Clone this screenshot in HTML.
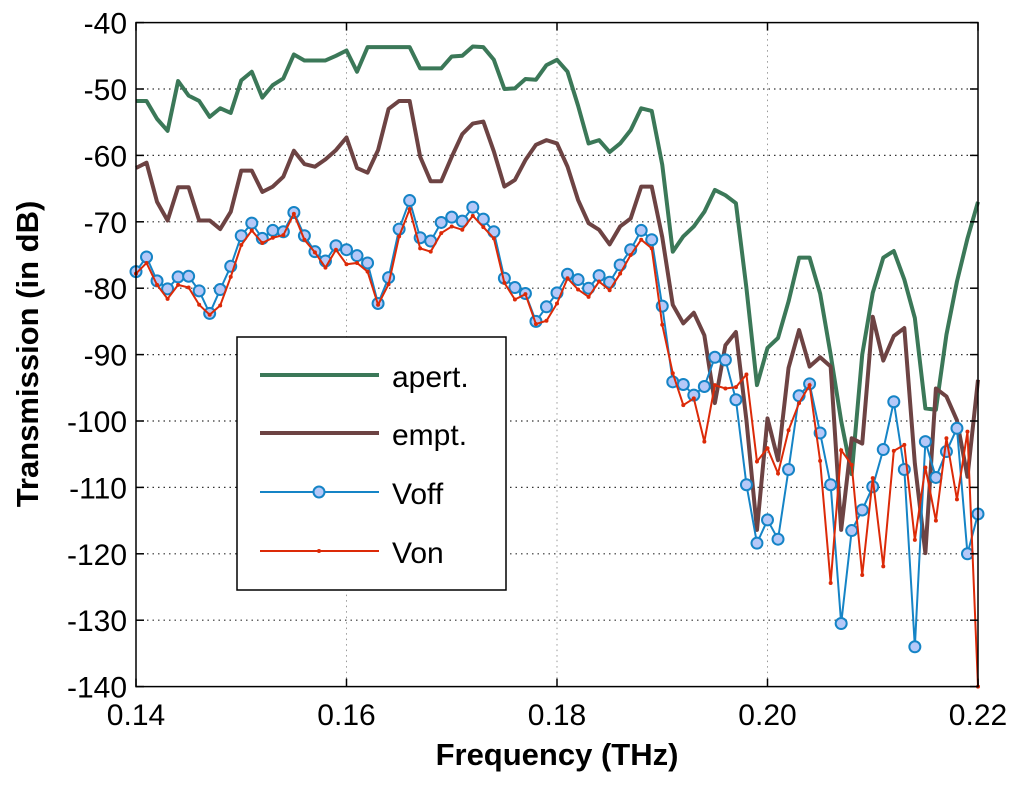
<!DOCTYPE html>
<html><head><meta charset="utf-8"><style>
html,body{margin:0;padding:0;background:#fff;}
svg{display:block;font-family:"Liberation Sans",Arial,sans-serif;}
</style></head><body>
<svg id="chart" width="1024" height="788" viewBox="0 0 1024 788" xmlns="http://www.w3.org/2000/svg">
<g id="grid"></g>
<g id="series"></g>
<rect x="136" y="22.6" width="842" height="664" fill="none" stroke="#000" stroke-width="1.5"/>
<g id="ticks"></g>
<text x="557" y="765" font-size="31" font-weight="bold" text-anchor="middle">Frequency (THz)</text>
<text transform="translate(38,354) rotate(-90)" font-size="31" font-weight="bold" text-anchor="middle">Transmission (in dB)</text>
<g>
<rect x="237" y="337" width="269" height="253" fill="#fff" stroke="#000" stroke-width="1.5"/>
<g><line x1="260" y1="375" x2="379" y2="375" stroke="#3b7858" stroke-width="4"/><text x="392" y="387" font-size="30">apert.</text></g>
<g><line x1="260" y1="433" x2="379" y2="433" stroke="#6d4343" stroke-width="4"/><text x="392" y="445" font-size="30">empt.</text></g>
<g><line x1="260" y1="492" x2="379" y2="492" stroke="#1584c6" stroke-width="2"/><circle cx="319" cy="492" r="5.5" fill="#b5c8f8" stroke="#1584c6" stroke-width="2"/><text x="392" y="504" font-size="30">Voff</text></g>
<g><line x1="260" y1="551" x2="379" y2="551" stroke="#dc2a08" stroke-width="2"/><circle cx="319" cy="551" r="2" fill="#dc2a08"/><text x="392" y="563" font-size="30">Von</text></g>
</g>
</svg>
<script>
const freqStart = 0.14;
const freqStep = 0.001;
const xTicks = [0.14, 0.16, 0.18, 0.20, 0.22];
const xTickLabels = ["0.14", "0.16", "0.18", "0.20", "0.22"];
const yTicks = [-40, -50, -60, -70, -80, -90, -100, -110, -120, -130, -140];
const apert = [-51.8,-51.8,-54.5,-56.3,-48.8,-51,-51.8,-54.2,-52.9,-53.6,-48.7,-47.4,-51.3,-49.4,-48.4,-44.8,-45.7,-45.7,-45.7,-45,-44.2,-47.4,-43.7,-43.7,-43.7,-43.7,-43.7,-46.9,-46.9,-46.9,-45.1,-45,-43.6,-43.7,-45.6,-50,-49.9,-48.5,-48.6,-46.4,-45.6,-47.4,-52.5,-58.2,-57.7,-59.5,-58.2,-56.2,-52.9,-53.3,-61.4,-74.5,-72.2,-70.7,-68.5,-65.2,-66,-67.2,-80,-94.6,-89,-87.5,-82,-75.4,-75.4,-80.8,-90,-100,-108,-90,-80.7,-75.4,-74.4,-78.7,-84.5,-98.1,-98.3,-87,-79,-72.5,-67];
const empt = [-61.9,-61.1,-67,-69.8,-64.8,-64.8,-69.8,-69.8,-71.1,-68.5,-62.3,-62.3,-65.5,-64.7,-63.2,-59.3,-61.3,-61.7,-60.6,-59.2,-57.3,-61.9,-62.6,-59.2,-53,-51.8,-51.8,-60.2,-63.9,-63.9,-60.2,-56.8,-55.2,-54.9,-59.4,-64.7,-63.7,-60.7,-58.4,-57.7,-58.2,-61.7,-66.7,-70.2,-71.2,-73.4,-70.7,-69.5,-64.7,-64.7,-72.3,-82.5,-85.3,-83.7,-87.1,-97.3,-88.6,-86.6,-99.9,-116.4,-99.6,-105.9,-92,-86.3,-91.8,-90.4,-91.8,-116.4,-102.6,-103.4,-84.3,-90.9,-87.2,-86,-106.4,-119.9,-95.1,-96.3,-99.9,-108.4,-93.8];
const voff = [-77.5,-75.3,-78.9,-80.1,-78.3,-78.2,-80.4,-83.8,-80.2,-76.7,-72.1,-70.2,-72.5,-71.3,-71.5,-68.6,-72.1,-74.5,-75.9,-73.6,-74.2,-75.1,-76.2,-82.3,-78.4,-71.1,-66.8,-72.4,-72.9,-70.1,-69.3,-69.9,-67.8,-69.6,-71.5,-78.5,-79.9,-80.8,-85,-82.8,-80.7,-77.9,-78.7,-80,-78.1,-79.1,-76.5,-74.2,-71.3,-72.7,-82.7,-94.1,-94.5,-96.1,-94.8,-90.4,-90.8,-96.8,-109.6,-118.4,-114.9,-117.8,-107.3,-96.2,-94.4,-101.8,-109.6,-130.5,-116.5,-113.4,-109.9,-104.3,-97.1,-107.3,-134,-103.1,-108.5,-104.6,-101.1,-120,-114];
const von = [-77.8,-76.2,-79.5,-81.6,-79.5,-79.9,-82.5,-84,-82.6,-78.3,-73.5,-71.3,-73.2,-72.4,-72,-68.8,-72.7,-74.6,-76.9,-74.2,-76.4,-76.2,-77.5,-82.5,-79.4,-72.2,-68.1,-74,-74.5,-71.7,-70.7,-71.2,-69.1,-70.8,-72.5,-79.2,-81.7,-80.9,-85.4,-84.9,-82.3,-78.5,-80.2,-81.3,-79,-80.3,-77.8,-75,-72.7,-74,-85.5,-92.8,-97.6,-96.6,-103.1,-94.6,-95.1,-94.9,-93,-106.1,-104.1,-107.9,-101.4,-97.3,-94.6,-106,-124.4,-104.4,-106.6,-123.2,-108.6,-121.9,-104.5,-103.6,-117.9,-107,-115,-102.6,-111.8,-101.6,-140];

const NS = "http://www.w3.org/2000/svg";
const X0 = 136, X1 = 978, Y0 = 22.6, Y1 = 686.6;
function xs(f){ return X0 + (f - 0.14) / 0.08 * (X1 - X0); }
function ys(v){ return Y0 + (-40 - v) / 100 * (Y1 - Y0); }
function mk(tag, attrs, parent){ const e = document.createElementNS(NS, tag); for (const k in attrs) e.setAttribute(k, attrs[k]); parent.appendChild(e); return e; }

const grid = document.getElementById('grid');
const ticks = document.getElementById('ticks');
yTicks.forEach(v => {
  const y = ys(v);
  if (v > -140 && v < -40) {
    const g = mk('line', {x1: X0, x2: X1, y1: y, y2: y, stroke: '#333', 'stroke-width': 1.2, 'stroke-dasharray': '1.5 4'}, grid);
    
    
  }
  const t1 = mk('line', {x1: X0, x2: X0 + 8, y1: y, y2: y, stroke: '#000', 'stroke-width': 1.5}, ticks);
  
  
  const t2 = mk('line', {x1: X1 - 8, x2: X1, y1: y, y2: y, stroke: '#000', 'stroke-width': 1.5}, ticks);
  
  
  const tx = mk('text', {x: 127, y: y + 11, 'font-size': 30, 'text-anchor': 'end'}, ticks);
  tx.textContent = String(v);
  
  
});
xTicks.forEach((f, i) => {
  const x = xs(f);
  if (i > 0 && i < xTicks.length - 1) {
    const g = mk('line', {x1: x, x2: x, y1: Y0, y2: Y1, stroke: '#999', 'stroke-width': 1, 'stroke-dasharray': '1.5 4'}, grid);
    
    
  }
  const t1 = mk('line', {x1: x, x2: x, y1: Y1, y2: Y1 - 8, stroke: '#000', 'stroke-width': 1.5}, ticks);
  
  
  const t2 = mk('line', {x1: x, x2: x, y1: Y0, y2: Y0 + 8, stroke: '#000', 'stroke-width': 1.5}, ticks);
  
  
  const tx = mk('text', {x: x, y: 725, 'font-size': 30, 'text-anchor': 'middle'}, ticks);
  tx.textContent = xTickLabels[i];
  
  
});

const series = document.getElementById('series');
function pts(arr){ return arr.map((v, i) => xs(freqStart + i * freqStep).toFixed(2) + ',' + ys(v).toFixed(2)).join(' '); }
const pa = mk('polyline', {points: pts(apert), fill: 'none', stroke: '#3b7858', 'stroke-width': 4, 'stroke-linejoin': 'round'}, series);


const pe = mk('polyline', {points: pts(empt), fill: 'none', stroke: '#6d4343', 'stroke-width': 4, 'stroke-linejoin': 'round'}, series);


const pv = mk('polyline', {points: pts(voff), fill: 'none', stroke: '#1584c6', 'stroke-width': 2}, series);


voff.forEach((v, i) => {
  const c = mk('circle', {cx: xs(freqStart + i * freqStep), cy: ys(v), r: 5.5, fill: '#b5c8f8', stroke: '#1584c6', 'stroke-width': 2}, series);
  
  
});
const pn = mk('polyline', {points: pts(von), fill: 'none', stroke: '#dc2a08', 'stroke-width': 2}, series);


von.forEach((v, i) => {
  const c = mk('circle', {cx: xs(freqStart + i * freqStep), cy: ys(v), r: 2, fill: '#dc2a08'}, series);
  
  
});
</script>
</body></html>
